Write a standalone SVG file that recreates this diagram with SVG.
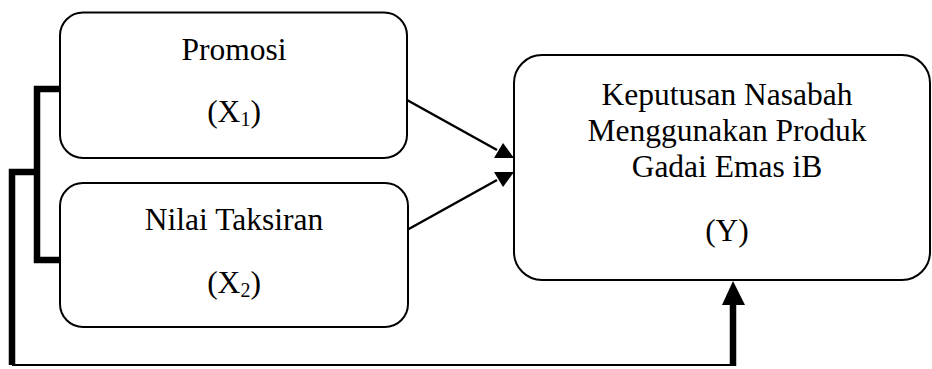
<svg xmlns="http://www.w3.org/2000/svg" width="932" height="369" viewBox="0 0 932 369">
<style>
.box{fill:#fff;stroke:#000;stroke-width:2}
.t{font-family:"Liberation Serif","Times New Roman",serif;font-size:31.5px;fill:#000;text-anchor:middle}
.sub{font-size:20px}
.thin{fill:none;stroke:#000;stroke-width:2.5}
.thick{fill:none;stroke:#000;stroke-width:6.5}
</style>
<defs>
<marker id="ah" viewBox="0 0 10 10" refX="10" refY="5" markerWidth="8" markerHeight="8" markerUnits="userSpaceOnUse" orient="auto">
<path d="M0,0 L10,5 L0,10 z" fill="#000"/>
</marker>
</defs>
<g id="connectors">
<polyline class="thick" points="60,89 37,89 37,260 60,260"/>
<polyline class="thick" points="37,172 12,172 12,365"/>
<line class="thin" x1="12" y1="365" x2="733" y2="365" style="stroke-width:2"/>
<line class="thick" x1="733" y1="366" x2="733" y2="304"/>
<polygon points="733,281 722,305 745,305" fill="#000"/>
<line class="thin" x1="407" y1="100" x2="497" y2="150"/>
<polygon points="514,158 494,158 503,143" fill="#000"/>
<line class="thin" x1="407" y1="230" x2="497" y2="180"/>
<polygon points="514,172 494,172 503,187" fill="#000"/>
</g>
<g id="x1">
<rect class="box" x="60" y="12.5" width="347" height="145.5" rx="23" ry="23"/>
<text class="t" x="234" y="60">Promosi</text>
<text class="t" x="234" y="122">(X<tspan class="sub" dy="4">1</tspan><tspan dy="-4">)</tspan></text>
</g>
<g id="x2">
<rect class="box" x="60" y="183" width="348" height="144" rx="23" ry="23"/>
<text class="t" x="234" y="230">Nilai Taksiran</text>
<text class="t" x="234" y="293">(X<tspan class="sub" dy="4">2</tspan><tspan dy="-4">)</tspan></text>
</g>
<g id="y">
<rect class="box" x="514" y="55" width="416" height="225" rx="28" ry="28"/>
<text class="t" x="727" y="105">Keputusan Nasabah</text>
<text class="t" x="727" y="141">Menggunakan Produk</text>
<text class="t" x="727" y="177">Gadai Emas iB</text>
<text class="t" x="727" y="241">(Y)</text>
</g>
</svg>
